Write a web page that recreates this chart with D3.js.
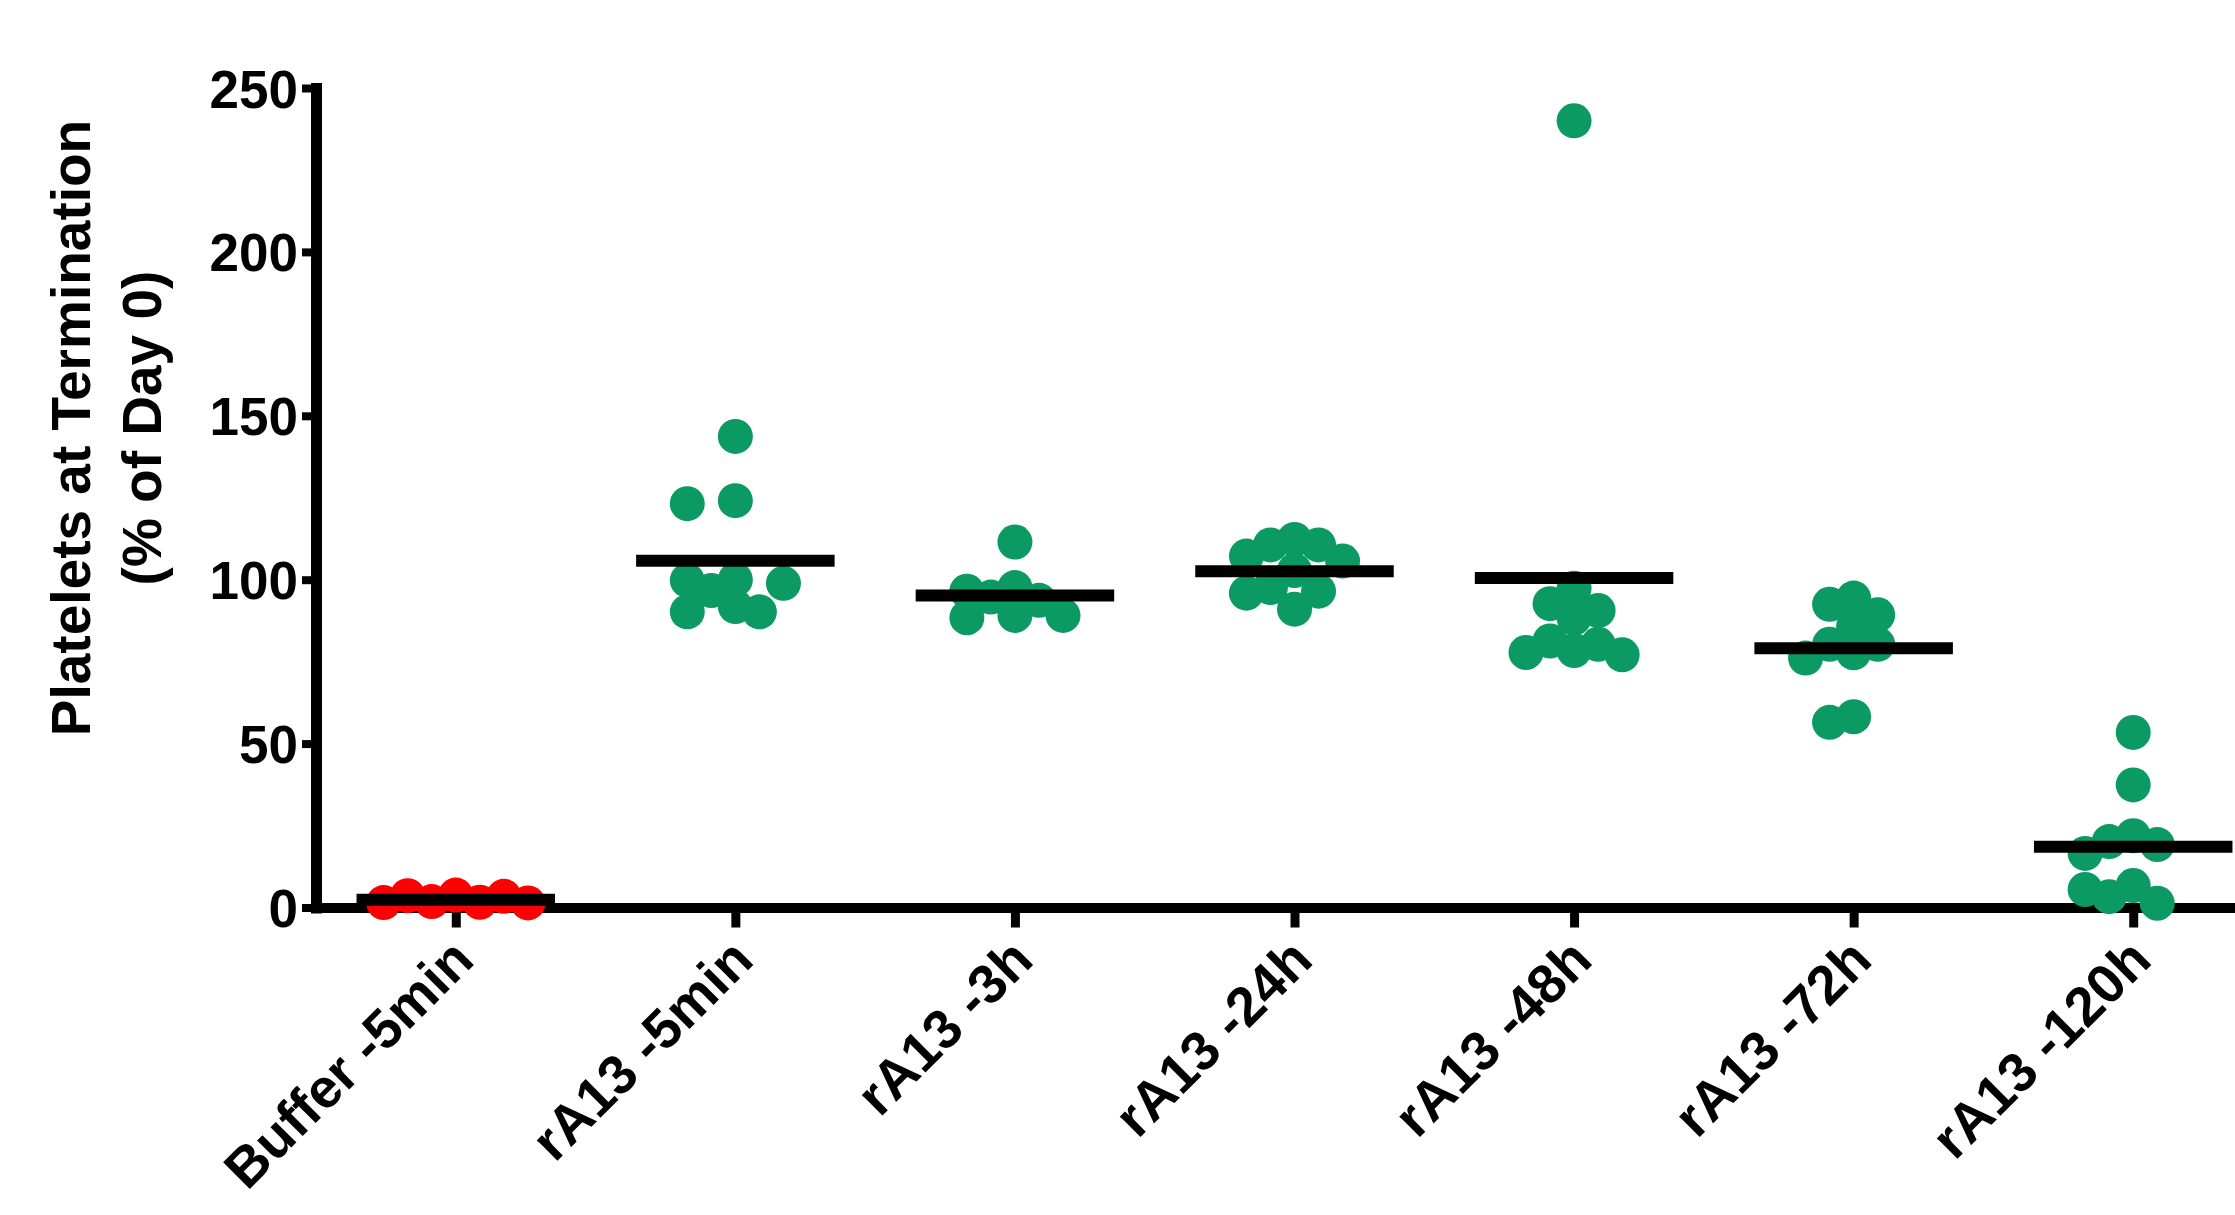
<!DOCTYPE html>
<html>
<head>
<meta charset="utf-8">
<script src="https://cdn.jsdelivr.net/npm/d3@7/dist/d3.min.js"></script>
<style>
  html, body { margin: 0; padding: 0; background: #fff; }
  svg { display: block; }
  text { font-family: "Liberation Sans", Arial, sans-serif; font-weight: bold; fill: #000; }
</style>
</head>
<body>
<svg id="chart" width="2235" height="1215"></svg>
<script>
// Treatment groups along the x axis
const categories = ["Buffer -5min", "rA13 -5min", "rA13 -3h", "rA13 -24h", "rA13 -48h", "rA13 -72h", "rA13 -120h"];

// Platelets at termination, % of day 0, one value per animal
const bufferMin5 = [3.8, 3.6, 3.4, 1.8, 1.6, 1.5, 1.4];
const rA13Min5   = [143.7, 124.1, 123.2, 100.0, 98.9, 96.7, 99.8, 91.8, 90.2, 90.2];
const rA13H3     = [111.5, 96.5, 93.7, 97.6, 94.7, 89.1, 88.4, 89.1];
const rA13H24    = [112.3, 110.6, 110.6, 107.2, 105.7, 102.8, 97.6, 96.5, 95.9, 91.0];
const rA13H48    = [240.0, 97.4, 92.7, 90.6, 88.3, 81.3, 80.3, 78.4, 77.8, 77.1];
const rA13H72    = [94.4, 92.5, 89.3, 85.8, 80.3, 80.3, 77.7, 76.1, 58.2, 56.5];
const rA13H120   = [53.4, 37.4, 21.9, 20.1, 19.2, 16.5, 6.7, 5.5, 3.3, 1.3];

const seriesValues = [bufferMin5, rA13Min5, rA13H3, rA13H24, rA13H48, rA13H72, rA13H120];

// Group centre lines (mean)
const groupMeans = [2.4, 105.8, 95.2, 102.6, 100.5, 79.1, 18.5];

// Y axis ticks
const yTicks = [0, 50, 100, 150, 200, 250];

const groupColors = ["#ff0000", "#0b9a63", "#0b9a63", "#0b9a63", "#0b9a63", "#0b9a63", "#0b9a63"];

const svg = d3.select("#chart");
svg.append("rect").attr("width", 2235).attr("height", 1215).attr("fill", "#fff");

const x = d3.scalePoint().domain(categories).range([316, 2273]).padding(0.5);
const y = d3.scaleLinear().domain([0, 250]).range([907.5, 88]);

const dotR = 17.5;
const slot = x.step() * 0.086;   // horizontal jitter step
const minDist = 24.5;            // closest allowed centre distance

// Place each point in the nearest free jitter column
function swarm(vals) {
  const order = vals.map((v, i) => i).sort((a, b) => vals[b] - vals[a]);
  const placed = [];
  const out = new Array(vals.length);
  for (const i of order) {
    const py = y(vals[i]);
    for (let k = 0; k < 50; k++) {
      const cands = k === 0 ? [0] : [-k, k];
      let hit = null;
      for (const c of cands) {
        const px = c * slot;
        if (placed.every(p => Math.hypot(p.x - px, p.y - py) >= minDist)) { hit = px; break; }
      }
      if (hit !== null) { placed.push({ x: hit, y: py }); out[i] = hit; break; }
    }
  }
  return out;
}

// Axes
const yAxis = d3.axisLeft(y).tickValues(yTicks).tickSize(14).tickSizeOuter(0).tickPadding(4);
const gy = svg.append("g").attr("transform", "translate(316,0)").call(yAxis);
gy.select(".domain").attr("stroke", "#000").attr("stroke-width", 11).attr("stroke-linecap", "square");
gy.selectAll(".tick line").attr("stroke", "#000").attr("stroke-width", 8);
gy.selectAll(".tick text").attr("font-size", 53).attr("dy", "0.36em")
  .style("font-family", '"Liberation Sans", Arial, sans-serif').style("font-weight", "bold");

const xAxis = d3.axisBottom(x).tickSize(20).tickSizeOuter(0);
const gx = svg.append("g").attr("transform", `translate(0,${y(0)})`).call(xAxis);
gx.select(".domain").attr("stroke", "#000").attr("stroke-width", 10);
gx.selectAll(".tick line").attr("stroke", "#000").attr("stroke-width", 9);
gx.selectAll(".tick text")
  .attr("font-size", 55)
  .attr("text-anchor", "end")
  .attr("x", null).attr("y", null).attr("dy", null)
  .attr("transform", "translate(20,55) rotate(-45)")
  .style("font-family", '"Liberation Sans", Arial, sans-serif').style("font-weight", "bold");

// Y axis title
const title = svg.append("g").attr("font-size", 55);
title.append("text").attr("transform", "translate(90,428) rotate(-90)")
  .attr("text-anchor", "middle").text("Platelets at Termination");
title.append("text").attr("transform", "translate(161,428) rotate(-90)")
  .attr("text-anchor", "middle").text("(% of Day 0)");

// Points
const dots = svg.append("g");
seriesValues.forEach((vals, gi) => {
  const offs = swarm(vals);
  const cx = x(categories[gi]);
  dots.selectAll(null).data(vals).enter().append("circle")
    .attr("cx", (d, i) => cx + offs[i])
    .attr("cy", d => y(d))
    .attr("r", dotR)
    .attr("fill", groupColors[gi]);
});

// Mean lines
const halfW = x.step() * 0.355;
svg.append("g").selectAll("line").data(groupMeans).enter().append("line")
  .attr("x1", (d, i) => x(categories[i]) - halfW)
  .attr("x2", (d, i) => x(categories[i]) + halfW)
  .attr("y1", d => y(d)).attr("y2", d => y(d))
  .attr("stroke", "#000").attr("stroke-width", 12);
</script>
</body>
</html>
